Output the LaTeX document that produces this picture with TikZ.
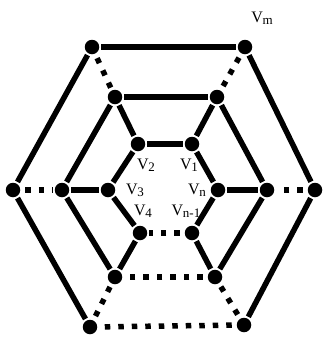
\documentclass[tikz,border=0pt]{standalone}
\usepackage{fontspec}
\setmainfont{Liberation Serif}
\newcommand\Vsub[1]{V\kern-0.3pt\raisebox{-0.3ex}{\fontsize{13}{13}\selectfont #1}}
\begin{document}
\begin{tikzpicture}[x=1pt,y=-1pt,
  vtx/.style={circle,fill=black,minimum size=14.5pt,inner sep=0pt,outer sep=2pt},
  sol/.style={line width=5.5pt},
  dts/.style={line width=5.5pt,dash pattern=on 5.5pt off 8pt,dash phase=-3pt},
  lbl/.style={font=\fontsize{16}{16}\selectfont,inner sep=0pt}]
\useasboundingbox (0,0) rectangle (322,338);
% outer
\node[vtx] (o1) at (92,47) {};
\node[vtx] (o2) at (245,47) {};
\node[vtx] (o3) at (315,190) {};
\node[vtx] (o4) at (244,325) {};
\node[vtx] (o5) at (90,327) {};
\node[vtx] (o6) at (13,190) {};
% second
\node[vtx] (s1) at (115,97) {};
\node[vtx] (s2) at (217,97) {};
\node[vtx] (s3) at (267,190) {};
\node[vtx] (s4) at (215,277) {};
\node[vtx] (s5) at (115,277) {};
\node[vtx] (s6) at (62,190) {};
% inner
\node[vtx] (v1) at (192,144) {};
\node[vtx] (v2) at (138,144) {};
\node[vtx] (v3) at (108,190) {};
\node[vtx] (v4) at (140,233) {};
\node[vtx] (vm1) at (192,233) {};
\node[vtx] (vn) at (218,190) {};
% labels
\node[lbl] (lm) at (262,18) {\Vsub{m}};
\node[lbl] (l1) at (189,165) {\Vsub{1}};
\node[lbl] (l2) at (146,165) {\Vsub{2}};
\node[lbl] (l3) at (135,190) {\Vsub{3}};
\node[lbl] (l4) at (143,211) {\Vsub{4}};
\node[lbl] (ln) at (197,190) {\Vsub{n}};
\node[lbl] (ln1) at (186,211) {\Vsub{n-1}};
% outer hexagon
\draw[sol] (o1) -- (o2);
\draw[sol] (o2) -- (o3);
\draw[sol] (o3) -- (o4);
\draw[dts] (o4) -- (o5);
\draw[sol] (o5) -- (o6);
\draw[sol] (o6) -- (o1);
% second hexagon
\draw[sol] (s1) -- (s2);
\draw[sol] (s2) -- (s3);
\draw[sol] (s3) -- (s4);
\draw[dts] (s4) -- (s5);
\draw[sol] (s5) -- (s6);
\draw[sol] (s6) -- (s1);
% inner hexagon
\draw[sol] (v2) -- (v1);
\draw[sol] (v1) -- (vn);
\draw[sol] (vn) -- (vm1);
\draw[dts] (vm1) -- (v4);
\draw[sol] (v4) -- (v3);
\draw[sol] (v3) -- (v2);
% spokes outer-second
\draw[dts] (o1) -- (s1);
\draw[dts] (o2) -- (s2);
\draw[dts] (o3) -- (s3);
\draw[dts] (o4) -- (s4);
\draw[dts] (o5) -- (s5);
\draw[dts] (o6) -- (s6);
% spokes second-inner
\draw[sol] (s1) -- (v2);
\draw[sol] (s2) -- (v1);
\draw[sol] (s3) -- (vn);
\draw[sol] (s4) -- (vm1);
\draw[sol] (s5) -- (v4);
\draw[sol] (s6) -- (v3);
\end{tikzpicture}
\end{document}
